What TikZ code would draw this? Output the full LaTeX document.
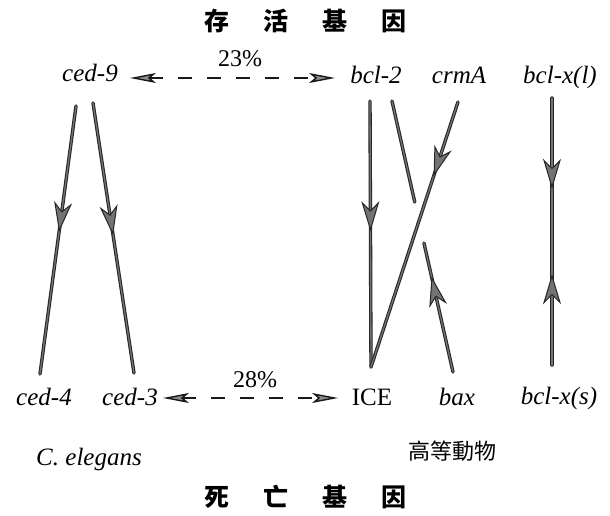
\documentclass[tikz,border=0pt]{standalone}
\usepackage{fontspec}
\setmainfont{Liberation Serif}
\newfontfamily\cjk{Noto Sans CJK TC}
\usetikzlibrary{arrows.meta,decorations.markings,calc}

\tikzset{
  gene/.style={font=\fontsize{25}{28}\selectfont\itshape, inner sep=0pt, anchor=base},
  plain/.style={font=\fontsize{25}{28}\selectfont, inner sep=0pt, anchor=base},
  pct/.style={font=\fontsize{24}{26}\selectfont, inner sep=0pt, anchor=center},
  heading/.style={font=\cjk\bfseries\fontsize{25}{28}\selectfont, inner sep=0pt, anchor=center},
  group/.style={font=\cjk\fontsize{22}{24}\selectfont, inner sep=0pt, anchor=center},
  % solid pathway line: dark rim with a grey core
  pathway/.style={draw=black!55, line width=1.3pt, line cap=round,
    preaction={draw=black!85, line width=3.4pt, line cap=round}},
  headtip/.tip={Stealth[length=30pt, width=18pt, inset=9pt, fill=black!55]},
  tipat/.style={postaction={decorate, decoration={markings,
    mark=at position #1 with {\arrow[black!85, line width=1pt]{headtip}}}}},
  tipback/.style={postaction={decorate, decoration={markings,
    mark=at position #1 with {\arrowreversed[black!85, line width=1pt]{headtip}}}}},
  dashtip/.tip={Stealth[length=26pt, width=10pt, inset=6pt, fill=black!45]},
  homology/.style={draw=black!90, line width=1.4pt, dash pattern=on 14pt off 15pt,
    {dashtip}-{dashtip}},
}

\begin{document}
\begin{tikzpicture}[x=1pt, y=-1pt]
\useasboundingbox (0,0) rectangle (610,516);
\fill[white] (0,0) rectangle (610,516);

% headings
\node[heading] (survive) at (305,21) {存\hspace{34pt}活\hspace{34pt}基\hspace{34pt}因};
\node[heading] (death) at (305,497) {死\hspace{34pt}亡\hspace{34pt}基\hspace{34pt}因};

% survival genes
\node[gene] (ced9) at (90,82) {ced-9};
\node[gene] (bcl2) at (376,84) {bcl-2};
\node[gene] (crmA) at (459,84) {crmA};
\node[gene] (bclxl) at (560,84) {bcl-x(l)};

% death genes
\node[gene] (ced4) at (44,405) {ced-4};
\node[gene] (ced3) at (130,405) {ced-3};
\node[plain] (ICE) at (372,405) {ICE};
\node[gene] (bax) at (457,405) {bax};
\node[gene] (bclxs) at (559,404) {bcl-x(s)};

% organisms
\node[gene] (celeg) at (89,465) {C. elegans};
\node[group] (higher) at (452,451) {高等動物};

% homology percentages
\node[pct] (p23) at (240,59) {23\%};
\node[pct] (p28) at (255,380) {28\%};

\draw[homology] ($(ced9.base)+(40,-4)$) -- ($(bcl2.base)+(-41,-6)$);
\draw[homology] ($(ced3.base)+(33,-7)$) -- ($(ICE.base)+(-34,-7)$);

% C. elegans pathway
\draw[pathway, tipat=0.47] ($(ced9.base)+(-14,24)$) -- ($(ced4.base)+(-4,-31)$);
\draw[pathway, tipat=0.49] ($(ced9.base)+(3,21)$) -- ($(ced3.base)+(4,-32)$);

% mammalian pathway
\coordinate (icetop) at ($(ICE.base)+(-1,-38)$);
\draw[pathway, tipat=0.49] ($(bcl2.base)+(-6,17)$) -- (icetop);
\draw[pathway, tipat=0.28] ($(crmA.base)+(-1,18)$) -- (icetop);

% bax -> bcl-2, broken where the crmA line passes over
\coordinate (baxfoot) at ($(bax.base)+(-4,-33)$);
\coordinate (bcltop) at ($(bcl2.base)+(16,17)$);
\draw[pathway, tipat=0.74] (baxfoot) -- ($(baxfoot)!0.476!(bcltop)$);
\draw[pathway] ($(baxfoot)!0.627!(bcltop)$) -- (bcltop);

% bcl-x splice forms
\draw[pathway, tipat=0.34, tipback=0.66] ($(bclxl.base)+(-8,14)$) -- ($(bclxs.base)+(-7,-39)$);
\end{tikzpicture}
\end{document}
